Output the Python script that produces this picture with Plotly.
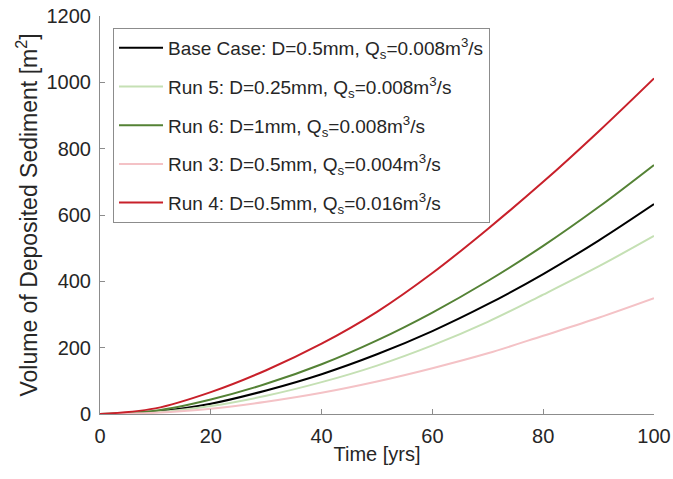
import plotly.graph_objects as go

time_yrs = [0, 10, 20, 30, 40, 50, 60, 70, 80, 90, 100]

base_case = [0, 7, 31, 71, 120, 180, 250, 331, 422, 523, 633]
run5 = [0, 5, 24, 55, 96, 146, 207, 278, 360, 445, 537]
run6 = [0, 10, 44, 91, 150, 222, 306, 401, 507, 624, 751]
run3 = [0, 4, 16, 37, 64, 98, 138, 183, 236, 290, 349]
run4 = [0, 17, 66, 132, 212, 308, 425, 558, 700, 852, 1012]

names = [
    "Base Case: D=0.5mm, Q<sub>s</sub>=0.008m<sup>3</sup>/s",
    "Run 5: D=0.25mm, Q<sub>s</sub>=0.008m<sup>3</sup>/s",
    "Run 6: D=1mm, Q<sub>s</sub>=0.008m<sup>3</sup>/s",
    "Run 3: D=0.5mm, Q<sub>s</sub>=0.004m<sup>3</sup>/s",
    "Run 4: D=0.5mm, Q<sub>s</sub>=0.016m<sup>3</sup>/s",
]
series = [base_case, run5, run6, run3, run4]
colors = ["#000000", "#C5E0B4", "#548235", "#F4C2C6", "#C8202A"]

fig = go.Figure()
for i, (nm, ys, c) in enumerate(zip(names, series, colors)):
    fig.add_trace(go.Scatter(
        x=time_yrs, y=ys, name=nm, mode="lines",
        line=dict(color=c, width=2, shape="spline"),
        legendgroup=f"g{i}",
    ))

axis_col = "#8c8c8c"
fig.update_layout(
    width=673, height=479,
    margin=dict(l=100, r=19, t=16, b=65),
    paper_bgcolor="white", plot_bgcolor="white",
    font=dict(family="Liberation Sans, Arial, sans-serif", color="#262626"),
    showlegend=True,
    legend=dict(
        x=0.0235, y=0.97, xanchor="left", yanchor="top",
        bgcolor="white", bordercolor=axis_col, borderwidth=1,
        font=dict(size=19, color="#262626"),
        tracegroupgap=11, itemwidth=44,
    ),
)
fig.update_xaxes(
    range=[0, 100], tickvals=[0, 20, 40, 60, 80, 100],
    showline=True, linecolor=axis_col, linewidth=1,
    ticks="inside", ticklen=5, tickcolor=axis_col,
    showgrid=False, zeroline=False, automargin=False,
    tickfont=dict(size=20), ticklabelstandoff=4, ticklabeloverflow="allow",
    title=dict(text="Time [yrs]", font=dict(size=20), standoff=0),
)
fig.update_yaxes(
    range=[0, 1200], tickvals=[0, 200, 400, 600, 800, 1000, 1200],
    showline=True, linecolor=axis_col, linewidth=1,
    ticks="inside", ticklen=5, tickcolor=axis_col,
    showgrid=False, zeroline=False, automargin=False,
    tickfont=dict(size=20), ticklabelstandoff=4, ticklabeloverflow="allow",
    title=dict(text="Volume of Deposited Sediment [m<sup>2</sup>]", font=dict(size=23), standoff=2),
)

fig.write_html("out.html", config={"displayModeBar": False},
               post_script="document.body.style.margin='0';")
